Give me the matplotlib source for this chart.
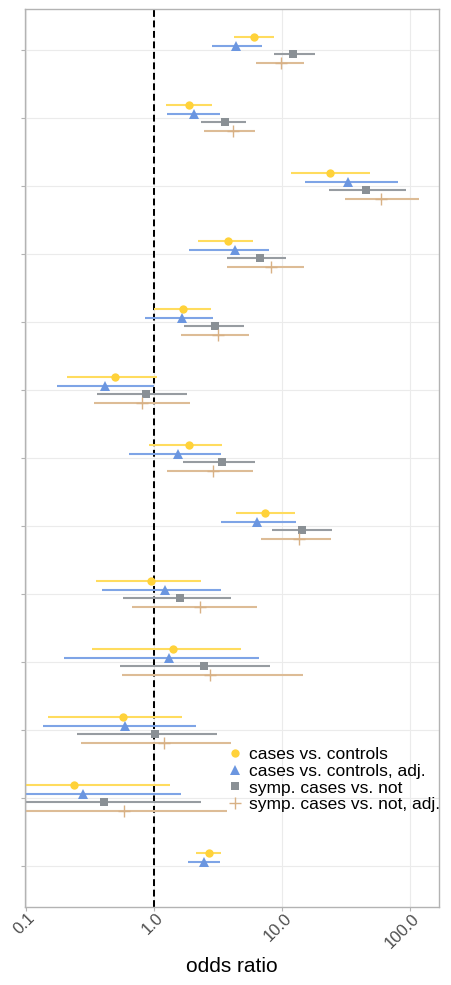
import numpy as np
import matplotlib
matplotlib.use("Agg")
import matplotlib.pyplot as plt
import matplotlib.transforms as mtransforms
from matplotlib.lines import Line2D

plt.rcParams['font.family'] = ['Liberation Sans', 'DejaVu Sans']

# Thirteen exposures, top to bottom
n_rows = 13

# cases vs. controls
cc_or = [6.05, 1.87, 23.9, 3.82, 1.69, 0.497, 1.88, 7.38, 0.948, 1.42, 0.570, 0.238, 2.68]
cc_lo = [4.23, 1.24, 11.8, 2.20, 1.006, 0.210, 0.914, 4.38, 0.355, 0.327, 0.148, 0.06, 2.15]
cc_hi = [8.73, 2.85, 48.9, 5.98, 2.78, 1.06, 3.41, 12.7, 2.34, 4.76, 1.66, 1.33, 3.37]

# cases vs. controls, adjusted
cca_or = [4.38, 2.05, 32.9, 4.30, 1.67, 0.418, 1.55, 6.43, 1.22, 1.32, 0.597, 0.280, 2.47]
cca_lo = [2.85, 1.26, 15.1, 1.87, 0.846, 0.175, 0.642, 3.37, 0.391, 0.200, 0.137, 0.07, 1.86]
cca_hi = [6.95, 3.29, 81.2, 7.92, 2.90, 1.00, 3.33, 12.9, 3.37, 6.62, 2.15, 1.62, 3.27]

# symptomatic cases vs. not
sc_or = [12.3, 3.56, 45.7, 6.74, 2.99, 0.867, 3.41, 14.4, 1.61, 2.45, 1.02, 0.410, np.nan]
sc_lo = [8.62, 2.34, 23.3, 3.75, 1.72, 0.361, 1.68, 8.36, 0.570, 0.543, 0.252, 0.08, np.nan]
sc_hi = [18.2, 5.24, 93.7, 10.7, 5.06, 1.83, 6.20, 24.8, 4.01, 8.02, 3.12, 2.35, np.nan]

# symptomatic cases vs. not, adjusted
sca_or = [9.9, 4.18, 59.5, 8.27, 3.19, 0.811, 2.92, 13.5, 2.30, 2.75, 1.21, 0.587, np.nan]
sca_lo = [6.24, 2.47, 31.0, 3.73, 1.62, 0.339, 1.26, 6.82, 0.670, 0.566, 0.270, 0.09, np.nan]
sca_hi = [14.9, 6.20, 118.0, 14.8, 5.53, 1.92, 5.98, 24.3, 6.43, 14.7, 4.01, 3.75, np.nan]

labels = ["cases vs. controls", "cases vs. controls, adj.",
          "symp. cases vs. not", "symp. cases vs. not, adj."]

x_ticks = [0.1, 1, 10, 100]
x_tick_labels = ["0.1", "1.0", "10.0", "100.0"]

series = [
    (cc_or, cc_lo, cc_hi, "#FFD23A", "#FFDC5E", "o", 6.0, 0.1875),
    (cca_or, cca_lo, cca_hi, "#6B96E0", "#7EA4E6", "^", 6.8, 0.0625),
    (sc_or, sc_lo, sc_hi, "#8A9095", "#979CA1", "s", 5.6, -0.0625),
    (sca_or, sca_lo, sca_hi, "#D8B185", "#DDBC96", "+", 9.0, -0.1875),
]

fig = plt.figure(figsize=(4.51, 9.85), dpi=100)
ax = fig.add_axes([24.5 / 451, 1 - 907 / 985, (439 - 24.5) / 451, (907 - 9) / 985])

rows = np.arange(n_rows, 0, -1)  # top row at highest y

# light grid
for r in rows:
    ax.axhline(r, color="#EBEBEB", lw=0.8, zorder=0)
for xv in x_ticks:
    ax.axvline(xv, color="#EBEBEB", lw=0.8, zorder=0)

ax.axvline(1.0, color="black", lw=1.45, ls=(0, (3.4, 1.8)), zorder=1)

handles = []
for (orv, lo, hi, mcol, lcol, mk, ms, off), lab in zip(series, labels):
    orv = np.array(orv, float); lo = np.array(lo, float); hi = np.array(hi, float)
    y = rows + off
    ok = ~np.isnan(orv)
    ax.hlines(y[ok], lo[ok], hi[ok], color=lcol, lw=1.5, zorder=2)
    mew = 1.0 if mk == "+" else 0
    ax.plot(orv[ok], y[ok], ls="none", marker=mk, ms=ms, mew=mew,
            color=mcol, zorder=3)
    handles.append(Line2D([], [], ls="none", marker=mk, ms=ms,
                          mew=mew, color=mcol, label=lab))

ax.set_xscale("log")
ax.set_xlim(10 ** -1.01, 10 ** 2.226)
ax.set_ylim(0.4, n_rows + 0.6)

ax.set_xticks(x_ticks)
ax.set_xticklabels([])
ax.xaxis.set_minor_locator(matplotlib.ticker.NullLocator())
ax.set_yticks(rows)
ax.set_yticklabels([])

# rotated tick labels, ending just right of each tick
lab_tr = ax.get_xaxis_transform() + mtransforms.ScaledTranslation(
    7 / 100, -9 / 100, fig.dpi_scale_trans)
for xv, txt in zip(x_ticks, x_tick_labels):
    ax.text(xv, 0, txt, transform=lab_tr, rotation=45, rotation_mode="anchor",
            ha="right", va="center", fontsize=12, color="#4D4D4D")

ax.tick_params(axis="x", colors="#B3B3B3", length=3, width=0.8)
ax.tick_params(axis="y", colors="#B3B3B3", length=3, width=0.8)

for sp in ax.spines.values():
    sp.set_color("#B3B3B3")
    sp.set_linewidth(1.0)

fig.text(231.7 / 451, 1 - 972 / 985, "odds ratio", fontsize=15, color="black",
         ha="center", va="baseline")

leg = ax.legend(handles=handles, loc="upper left",
                bbox_to_anchor=((219 - 24.5) / (439 - 24.5), 1 - (740 - 9) / (907 - 9)),
                frameon=False, fontsize=12.5, handletextpad=0.25,
                labelspacing=0.09, borderaxespad=0, handlelength=1.1)

fig.savefig("out.png", dpi=100)
